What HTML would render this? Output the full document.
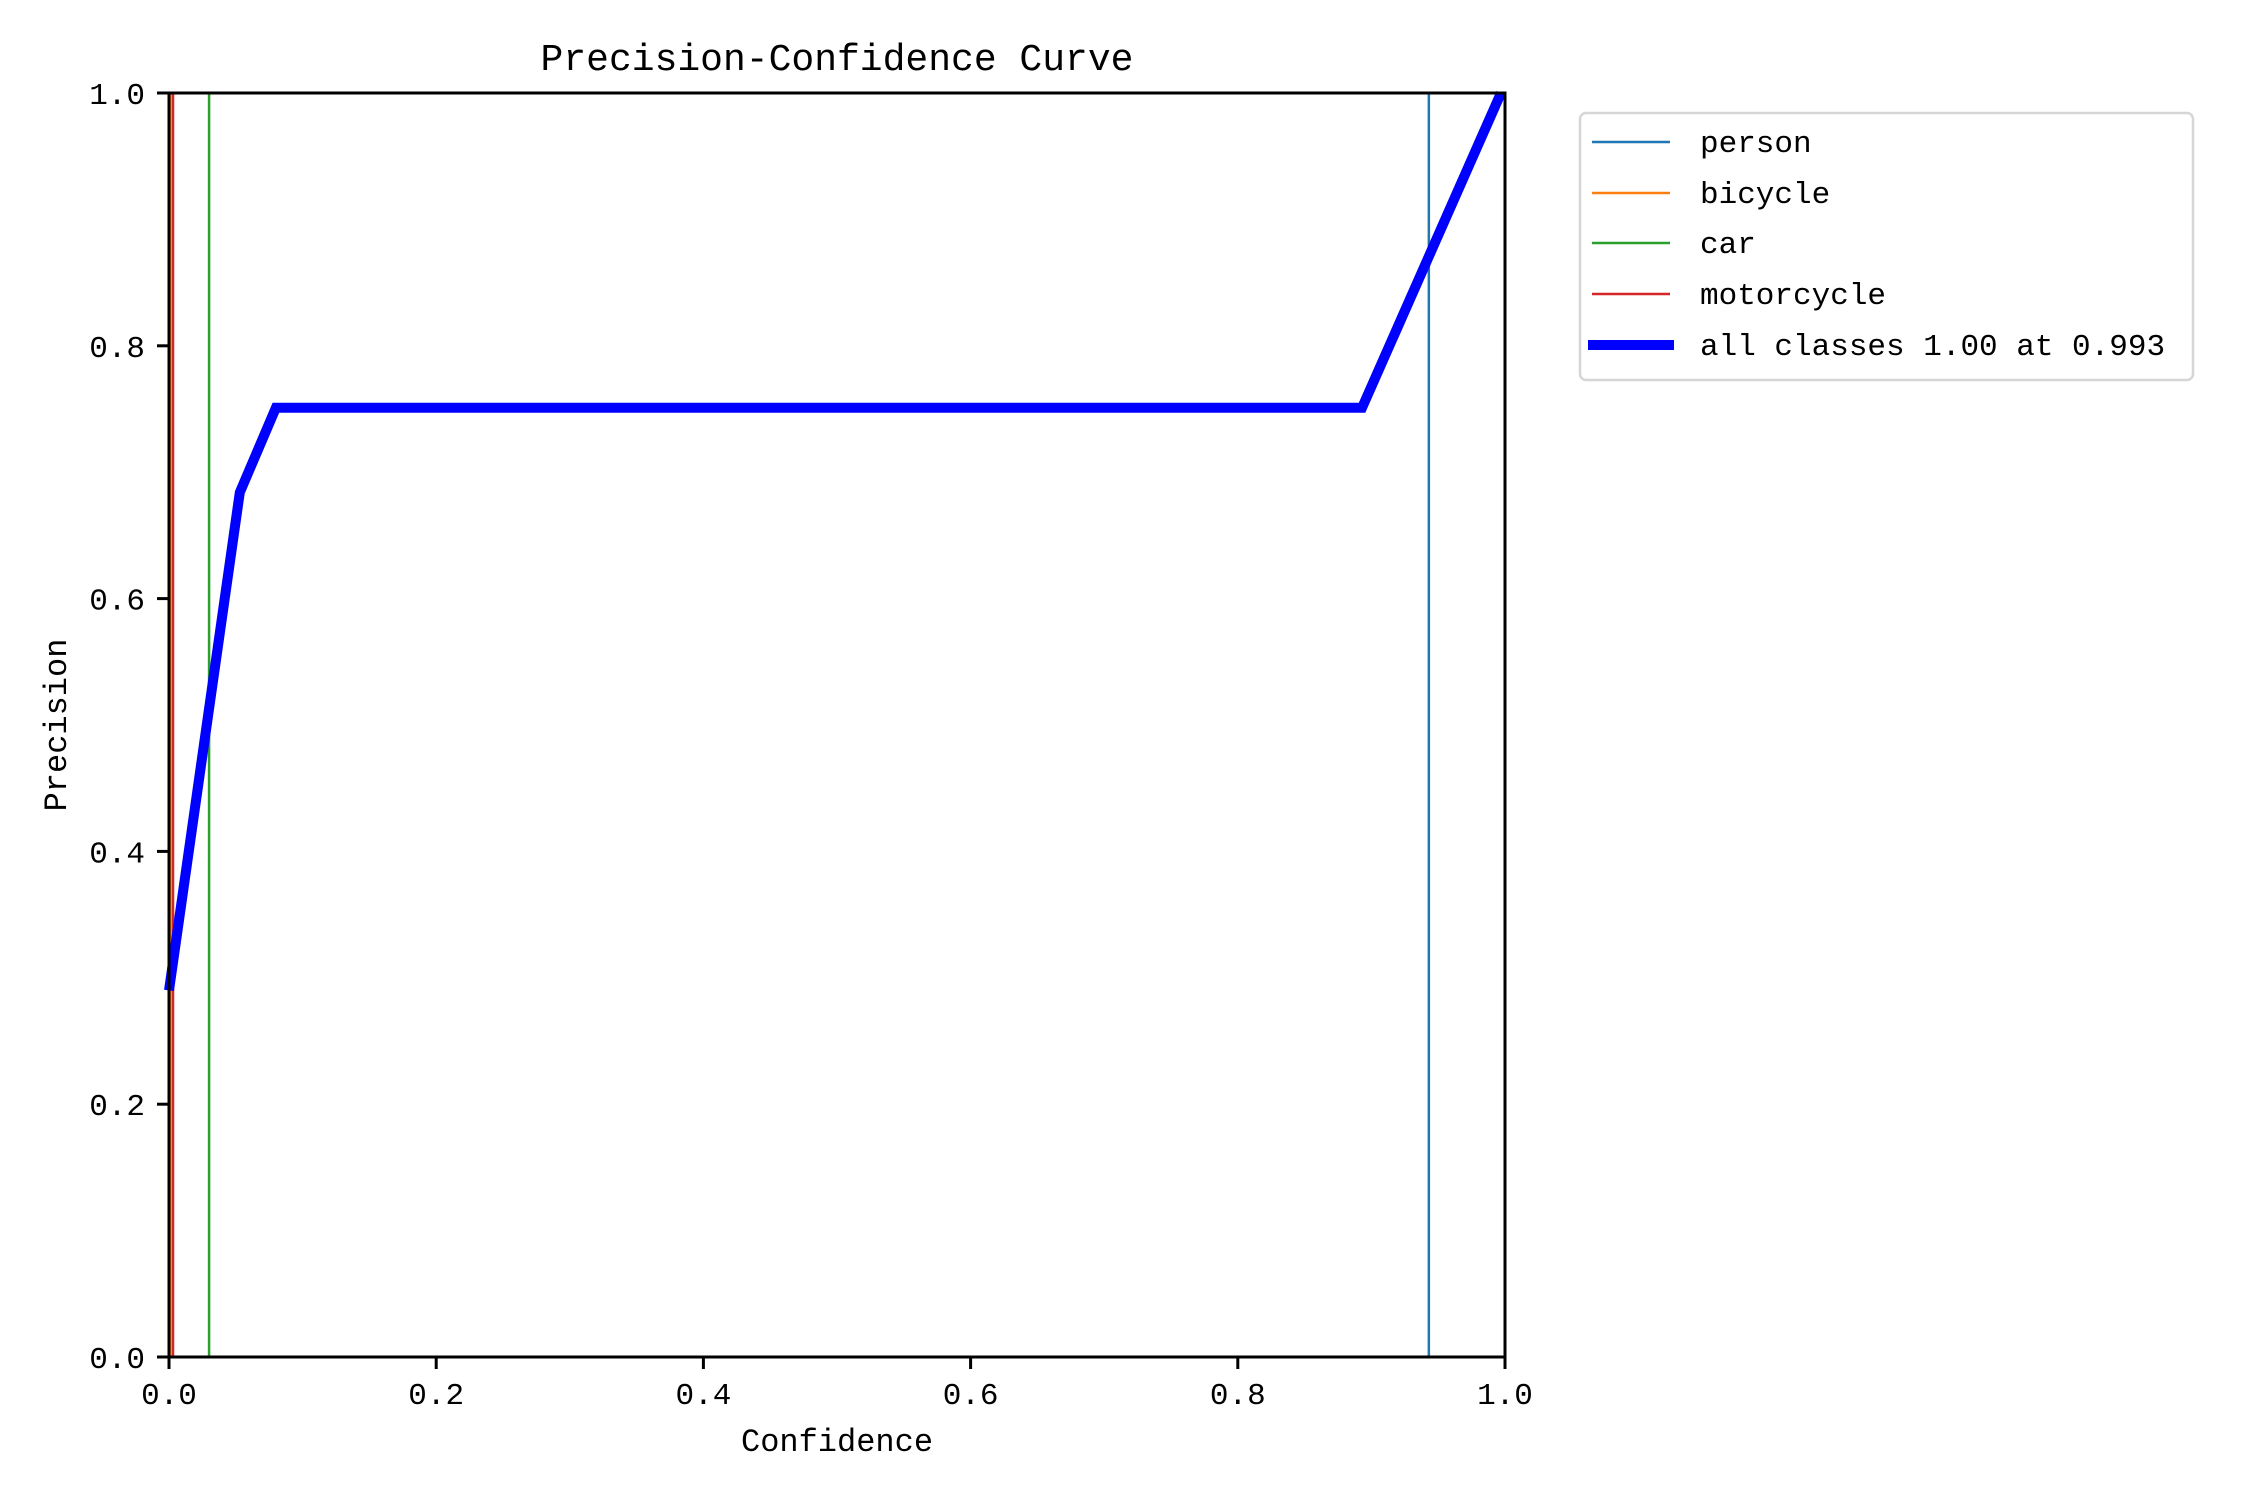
<!DOCTYPE html>
<html><head><meta charset="utf-8"><style>
html,body{margin:0;padding:0;background:#fff}
svg{display:block}
text{font-family:"Liberation Mono","WenQuanYi Zen Hei",monospace;fill:#000}
</style></head><body>
<svg id="chart" width="2250" height="1500" viewBox="0 0 2250 1500" xmlns="http://www.w3.org/2000/svg">
<text x="837" y="70" font-size="38" text-anchor="middle">Precision-Confidence Curve</text>
<g id="plot"></g>
<text x="837" y="1451" font-size="32" text-anchor="middle">Confidence</text>
<text x="0" y="0" font-size="32" text-anchor="middle" transform="translate(66,725) rotate(-90)">Precision</text>
<g>
<rect x="1580" y="113" width="613" height="267" rx="6" fill="#fff" stroke="#d6d6d6" stroke-width="2.5"/>
<line x1="1592" y1="142" x2="1670" y2="142" stroke="#1f77b4" stroke-width="2.5"/>
<text x="1700" y="152" font-size="31">person</text>
<line x1="1592" y1="193" x2="1670" y2="193" stroke="#ff7f0e" stroke-width="2.5"/>
<text x="1700" y="203" font-size="31">bicycle</text>
<line x1="1592" y1="243" x2="1670" y2="243" stroke="#2ca02c" stroke-width="2.5"/>
<text x="1700" y="253" font-size="31">car</text>
<line x1="1592" y1="294" x2="1670" y2="294" stroke="#d62728" stroke-width="2.5"/>
<text x="1700" y="304" font-size="31">motorcycle</text>
<line x1="1588" y1="345" x2="1674" y2="345" stroke="#0000ff" stroke-width="10"/>
<text x="1700" y="355" font-size="31">all classes 1.00 at 0.993</text>
</g>
</svg>
<script>
const xTicks = [0, 0.2, 0.4, 0.6, 0.8, 1.0];
const yTicks = [0, 0.2, 0.4, 0.6, 0.8, 1.0];
const tickLabels = ["0.0", "0.2", "0.4", "0.6", "0.8", "1.0"];
const classNames = ["person", "bicycle", "car", "motorcycle"];
const classColors = ["#1f77b4", "#ff7f0e", "#2ca02c", "#d62728"];
const classJumpAt = [0.943, 0.001, 0.030, 0.003];
const allX = [0.0, 0.053, 0.080, 0.893, 0.997];
const allY = [0.29, 0.684, 0.751, 0.751, 1.0];

const L = 169, R = 1505, T = 93, B = 1357;
const sx = v => L + v * (R - L);
const sy = v => B - v * (B - T);
const NS = "http://www.w3.org/2000/svg";
const g = document.getElementById('plot');
function mk(tag, attrs) {
  const e = document.createElementNS(NS, tag);
  for (const k in attrs) e.setAttribute(k, attrs[k]);
  g.appendChild(e);
  return e;
}
classNames.forEach((n, i) => {
  const j = classJumpAt[i];
  const p = mk('polyline', {points: `${sx(0)},${sy(0)} ${sx(j)},${sy(0)} ${sx(j)},${sy(1)} ${sx(1)},${sy(1)}`, fill: 'none', stroke: classColors[i], 'stroke-width': 2.5});
  
  
});
const pts = allX.map((x, i) => `${sx(x)},${sy(allY[i])}`).join(' ');
const all = mk('polyline', {points: pts, fill: 'none', stroke: '#0000ff', 'stroke-width': 10, 'stroke-linejoin': 'miter'});


const fr = mk('rect', {x: L, y: T, width: R - L, height: B - T, fill: 'none', stroke: '#000', 'stroke-width': 3});


xTicks.forEach((v, i) => {
  const t = mk('line', {x1: sx(v), y1: B, x2: sx(v), y2: B + 12, stroke: '#000', 'stroke-width': 3});
  
  
  const lb = mk('text', {x: sx(v), y: B + 47, 'font-size': 31, 'text-anchor': 'middle'});
  lb.textContent = tickLabels[i];
  
  
});
yTicks.forEach((v, i) => {
  const t = mk('line', {x1: L - 12, y1: sy(v), x2: L, y2: sy(v), stroke: '#000', 'stroke-width': 3});
  
  
  const lb = mk('text', {x: L - 24, y: sy(v) + 11, 'font-size': 31, 'text-anchor': 'end'});
  lb.textContent = tickLabels[i];
  
  
});
</script>
</body></html>
